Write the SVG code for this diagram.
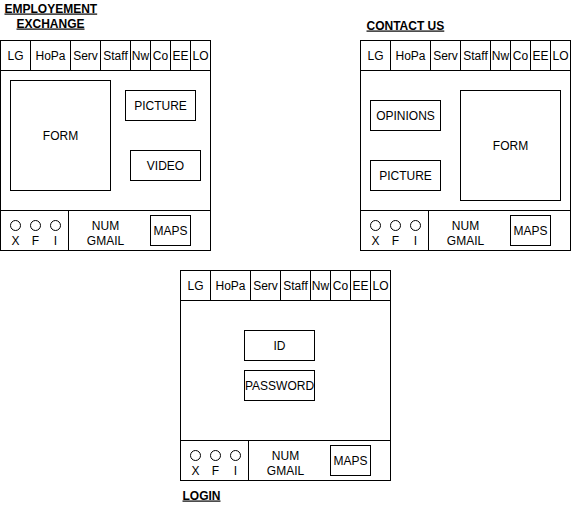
<svg xmlns="http://www.w3.org/2000/svg" width="571" height="510" viewBox="0 0 571 510">
<style>
rect, line, circle { fill: none; stroke: #000; stroke-width: 1; }
text { font-family: "Liberation Sans", Arial, sans-serif; font-size: 12px; fill: #000; text-anchor: middle; }
.title { font-weight: bold; text-decoration: underline; text-anchor: start; }
.bg { fill: #fff; }
</style>
<defs>
<g id="nav">
<rect x="0" y="0" width="210" height="30"/>
<line x1="30" y1="0" x2="30" y2="30"/>
<line x1="70" y1="0" x2="70" y2="30"/>
<line x1="100" y1="0" x2="100" y2="30"/>
<line x1="130" y1="0" x2="130" y2="30"/>
<line x1="150" y1="0" x2="150" y2="30"/>
<line x1="170" y1="0" x2="170" y2="30"/>
<line x1="190" y1="0" x2="190" y2="30"/>
<text x="15" y="19">LG</text>
<text x="50" y="19">HoPa</text>
<text x="85" y="19">Serv</text>
<text x="115" y="19">Staff</text>
<text x="140" y="19">Nw</text>
<text x="160" y="19">Co</text>
<text x="180" y="19">EE</text>
<text x="200" y="19">LO</text>
</g>
<g id="footer">
<rect x="0" y="0" width="210" height="40"/>
<line x1="68" y1="0" x2="68" y2="40"/>
<circle cx="15" cy="15" r="5"/>
<circle cx="35" cy="15" r="5"/>
<circle cx="55" cy="15" r="5"/>
<text x="15" y="34">X</text>
<text x="35" y="34">F</text>
<text x="55" y="34">I</text>
<text x="105" y="19">NUM</text>
<text x="105" y="34">GMAIL</text>
<rect x="150" y="5" width="40" height="30"/>
<text x="170" y="24">MAPS</text>
</g>
</defs>
<g transform="translate(0.5,0.5)">
<g id="employement-exchange">
<rect x="0" y="40" width="210" height="210" class="bg"/>
<use href="#nav" x="0" y="40"/>
<use href="#footer" x="0" y="210"/>
<rect x="10" y="80" width="100" height="110"/>
<text x="60" y="139">FORM</text>
<rect x="125" y="90" width="70" height="30"/>
<text x="160" y="109">PICTURE</text>
<rect x="130" y="150" width="70" height="30"/>
<text x="165" y="169">VIDEO</text>
<text class="title" x="4" y="12">EMPLOYEMENT</text>
<text class="title" x="16" y="27">EXCHANGE</text>
</g>

<g id="contact-us">
<rect x="360" y="40" width="210" height="210" class="bg"/>
<use href="#nav" x="360" y="40"/>
<use href="#footer" x="360" y="210"/>
<rect x="370" y="100" width="70" height="30"/>
<text x="405" y="119">OPINIONS</text>
<rect x="370" y="160" width="70" height="30"/>
<text x="405" y="179">PICTURE</text>
<rect x="460" y="90" width="100" height="110"/>
<text x="510" y="149">FORM</text>
<text class="title" x="366" y="29">CONTACT US</text>
</g>

<g id="login">
<rect x="180" y="270" width="210" height="210" class="bg"/>
<use href="#nav" x="180" y="270"/>
<use href="#footer" x="180" y="440"/>
<rect x="244" y="330" width="70" height="30"/>
<text x="279" y="349">ID</text>
<rect x="244" y="370" width="70" height="30"/>
<text x="279" y="389">PASSWORD</text>
<text class="title" x="182" y="499">LOGIN</text>
</g>

<g id="connectors"></g>
</g>
</svg>
